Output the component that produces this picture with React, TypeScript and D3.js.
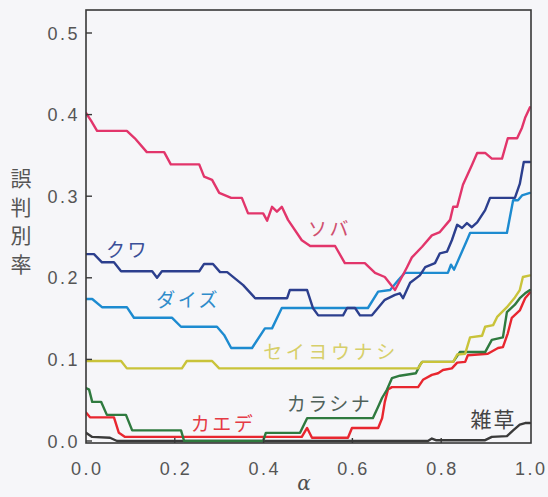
import React from 'react';
import * as d3 from 'd3';

const W = 548;
const H = 497;

// Error rate vs. alpha, one step-like curve per plant class
const alphaTicks = [0, 0.2, 0.4, 0.6, 0.8, 1.0];
const rateTicks = [0, 0.1, 0.2, 0.3, 0.4, 0.5];
const yAxisTitle = ['誤', '判', '別', '率'];

const soba: [number, number][] = [
  [0, 0.402], [0.011, 0.393], [0.025, 0.38], [0.092, 0.38], [0.11, 0.371], [0.137, 0.354],
  [0.176, 0.354], [0.191, 0.339], [0.255, 0.339], [0.266, 0.324], [0.284, 0.32], [0.3, 0.304],
  [0.327, 0.298], [0.351, 0.298], [0.365, 0.279], [0.399, 0.279], [0.408, 0.27], [0.419, 0.287],
  [0.43, 0.281], [0.441, 0.287], [0.455, 0.271], [0.486, 0.246], [0.505, 0.239], [0.561, 0.239],
  [0.583, 0.218], [0.628, 0.218], [0.651, 0.206], [0.673, 0.201], [0.696, 0.185], [0.723, 0.213],
  [0.734, 0.225], [0.757, 0.238], [0.779, 0.252], [0.797, 0.256], [0.82, 0.271], [0.827, 0.287],
  [0.836, 0.287], [0.849, 0.314], [0.869, 0.338], [0.881, 0.353], [0.899, 0.353], [0.914, 0.346],
  [0.937, 0.346], [0.95, 0.371], [0.971, 0.371], [0.982, 0.384], [0.989, 0.396], [1.0, 0.409],
];

const kuwa: [number, number][] = [
  [0, 0.229], [0.018, 0.229], [0.036, 0.219], [0.063, 0.219], [0.079, 0.208], [0.149, 0.208],
  [0.16, 0.2], [0.171, 0.208], [0.255, 0.208], [0.266, 0.217], [0.286, 0.217], [0.302, 0.207],
  [0.318, 0.207], [0.354, 0.191], [0.381, 0.175], [0.453, 0.175], [0.459, 0.185], [0.498, 0.185],
  [0.511, 0.163], [0.523, 0.154], [0.579, 0.154], [0.588, 0.163], [0.606, 0.163], [0.617, 0.154],
  [0.644, 0.154], [0.673, 0.173], [0.696, 0.179], [0.707, 0.181], [0.714, 0.175], [0.73, 0.194],
  [0.752, 0.203], [0.764, 0.213], [0.786, 0.218], [0.797, 0.23], [0.813, 0.232], [0.824, 0.246],
  [0.836, 0.265], [0.847, 0.261], [0.858, 0.267], [0.869, 0.262], [0.881, 0.268], [0.899, 0.283],
  [0.91, 0.298], [0.966, 0.298], [0.977, 0.315], [0.986, 0.342], [1.0, 0.342],
];

const daizu: [number, number][] = [
  [0, 0.174], [0.014, 0.174], [0.036, 0.164], [0.092, 0.164], [0.108, 0.151], [0.194, 0.151],
  [0.214, 0.14], [0.295, 0.14], [0.311, 0.13], [0.327, 0.114], [0.374, 0.114], [0.403, 0.138],
  [0.419, 0.138], [0.441, 0.163], [0.635, 0.163], [0.658, 0.183], [0.685, 0.185], [0.703, 0.197],
  [0.718, 0.206], [0.815, 0.206], [0.822, 0.216], [0.829, 0.21], [0.858, 0.246], [0.865, 0.255],
  [0.948, 0.255], [0.962, 0.295], [0.973, 0.295], [0.982, 0.301], [1.0, 0.304],
];

const seiyounashi: [number, number][] = [
  [0, 0.098], [0.079, 0.098], [0.092, 0.089], [0.216, 0.089], [0.227, 0.098], [0.284, 0.098],
  [0.3, 0.089], [0.748, 0.089], [0.757, 0.097], [0.827, 0.097], [0.836, 0.106], [0.854, 0.107],
  [0.865, 0.127], [0.892, 0.129], [0.899, 0.14], [0.917, 0.142], [0.926, 0.152], [0.948, 0.164],
  [0.966, 0.176], [0.977, 0.185], [0.984, 0.201], [1.0, 0.203],
];

const karashina: [number, number][] = [
  [0, 0.065], [0.007, 0.063], [0.014, 0.048], [0.034, 0.048], [0.047, 0.032], [0.09, 0.032],
  [0.104, 0.013], [0.214, 0.013], [0.221, 0], [0.399, 0], [0.405, 0.01], [0.482, 0.01],
  [0.498, 0.028], [0.646, 0.028], [0.658, 0.042], [0.667, 0.053], [0.678, 0.063], [0.689, 0.077],
  [0.707, 0.08], [0.743, 0.083], [0.752, 0.093], [0.757, 0.097], [0.827, 0.097], [0.842, 0.109],
  [0.899, 0.109], [0.914, 0.124], [0.939, 0.127], [0.948, 0.158], [0.966, 0.167], [0.977, 0.175],
  [0.989, 0.181], [1.0, 0.185],
];

const kaede: [number, number][] = [
  [0, 0.035], [0.009, 0.029], [0.063, 0.029], [0.074, 0.01], [0.088, 0.005], [0.486, 0.005],
  [0.498, 0.016], [0.509, 0.004], [0.59, 0.004], [0.599, 0.016], [0.658, 0.016], [0.667, 0.028],
  [0.673, 0.048], [0.68, 0.063], [0.689, 0.066], [0.748, 0.066], [0.759, 0.075], [0.779, 0.081],
  [0.793, 0.083], [0.804, 0.087], [0.824, 0.089], [0.836, 0.096], [0.854, 0.097], [0.86, 0.105],
  [0.905, 0.107], [0.928, 0.114], [0.939, 0.115], [0.95, 0.132], [0.959, 0.151], [0.977, 0.16],
  [0.989, 0.175], [1.0, 0.182],
];

const zassou: [number, number][] = [
  [0, 0.01], [0.014, 0.005], [0.054, 0.004], [0.07, 0], [0.77, 0], [0.779, 0.003], [0.788, 0.001],
  [0.899, 0.001], [0.914, 0.005], [0.948, 0.006], [0.962, 0.013], [0.977, 0.02], [0.989, 0.022],
  [1.0, 0.022],
];

const seriesNames = ['雑草', 'カエデ', 'カラシナ', 'セイヨウナシ', 'ダイズ', 'クワ', 'ソバ'];
const seriesData = [zassou, kaede, karashina, seiyounashi, daizu, kuwa, soba];
const seriesColors = ['#3a3a3a', '#e8262f', '#2f7a3f', '#c9c33a', '#1d8bd0', '#2c3f8e', '#e2356b'];
const labelColors = ['#444444', '#e53a44', '#4f615a', '#d6cf6a', '#2f8ccb', '#3a4f98', '#d0506f'];
// label anchor in data units: [alpha, rate] of the text baseline start
const labelAnchors: [number, number][] = [
  [0.866, 0.017], [0.236, 0.012], [0.452, 0.037], [0.399, 0.1], [0.158, 0.164], [0.045, 0.225], [0.5, 0.251],
];

export default function App() {
  const x = d3.scaleLinear().domain([0, 1]).range([86, 530]);
  const y = d3.scaleLinear().domain([0, 0.5]).range([441, 33]);
  const left = 86, right = 531, top = 10, bottom = 443;

  const line = d3
    .line<[number, number]>()
    .x((d) => x(d[0]))
    .y((d) => y(d[1]));

  const tickFont = '"Liberation Sans", Arial, sans-serif';
  const jpFont = '"Noto Sans CJK JP", "Noto Sans", sans-serif';

  return (
    <svg
      width={W}
      height={H}
      style={{ position: 'absolute', left: 0, top: 0, background: '#f6f6f9' }}
    >
      <rect x={0} y={0} width={W} height={H} fill="#f6f6f9" />
      <defs>
        <clipPath id="plotClip">
          <rect x={left} y={top} width={right - left} height={bottom - top} />
        </clipPath>
      </defs>

      {/* series lines */}
      <g clipPath="url(#plotClip)">
        {seriesData.map((d, i) => (
          <path
            key={seriesNames[i]}
            d={line(d) || ''}
            fill="none"
            stroke={seriesColors[i]}
            strokeWidth={2.4}
            strokeLinejoin="round"
            strokeLinecap="round"
          />
        ))}
      </g>

      {/* frame */}
      <rect
        x={left}
        y={top}
        width={right - left}
        height={bottom - top}
        fill="none"
        stroke="#383838"
        strokeWidth={1.6}
      />

      {/* y ticks */}
      {rateTicks.map((t) => (
        <g key={'y' + t}>
          <line x1={left} x2={left + 6} y1={y(t)} y2={y(t)} stroke="#383838" strokeWidth={1.4} />
          <text
            x={80}
            y={y(t) + 6.5}
            textAnchor="end"
            fontFamily={tickFont}
            fontSize={18}
            letterSpacing={2.5}
            fill="#555555"
          >
            {t.toFixed(1)}
          </text>
        </g>
      ))}

      {/* x ticks */}
      {alphaTicks.map((t) => (
        <g key={'x' + t}>
          {t > 0 && t < 1 && (
            <line x1={x(t)} x2={x(t)} y1={bottom} y2={bottom - 5} stroke="#383838" strokeWidth={1.4} />
          )}
          <text
            x={x(t) + 1.2}
            y={475}
            textAnchor="middle"
            fontFamily={tickFont}
            fontSize={18}
            letterSpacing={2.5}
            fill="#555555"
          >
            {t.toFixed(1)}
          </text>
        </g>
      ))}

      {/* axis titles */}
      {yAxisTitle.map((c, i) => (
        <text
          key={c}
          x={21}
          y={186 + i * 28.5}
          textAnchor="middle"
          fontFamily={jpFont}
          fontSize={21}
          fill="#555555"
        >
          {c}
        </text>
      ))}
      <text
        x={304}
        y={490}
        textAnchor="middle"
        fontFamily='"DejaVu Serif", "Liberation Serif", serif'
        fontStyle="italic"
        fontSize={20}
        fill="#505050"
      >
        α
      </text>

      {/* series labels */}
      {seriesNames.map((n, i) => (
        <text
          key={'l' + n}
          x={x(labelAnchors[i][0])}
          y={y(labelAnchors[i][1])}
          fontFamily={jpFont}
          fontSize={n === '雑草' ? 21 : 19}
          letterSpacing={n === '雑草' ? 2 : n === 'セイヨウナシ' ? 3.6 : 2.5}
          fill={labelColors[i]}
        >
          {n}
        </text>
      ))}
    </svg>
  );
}
